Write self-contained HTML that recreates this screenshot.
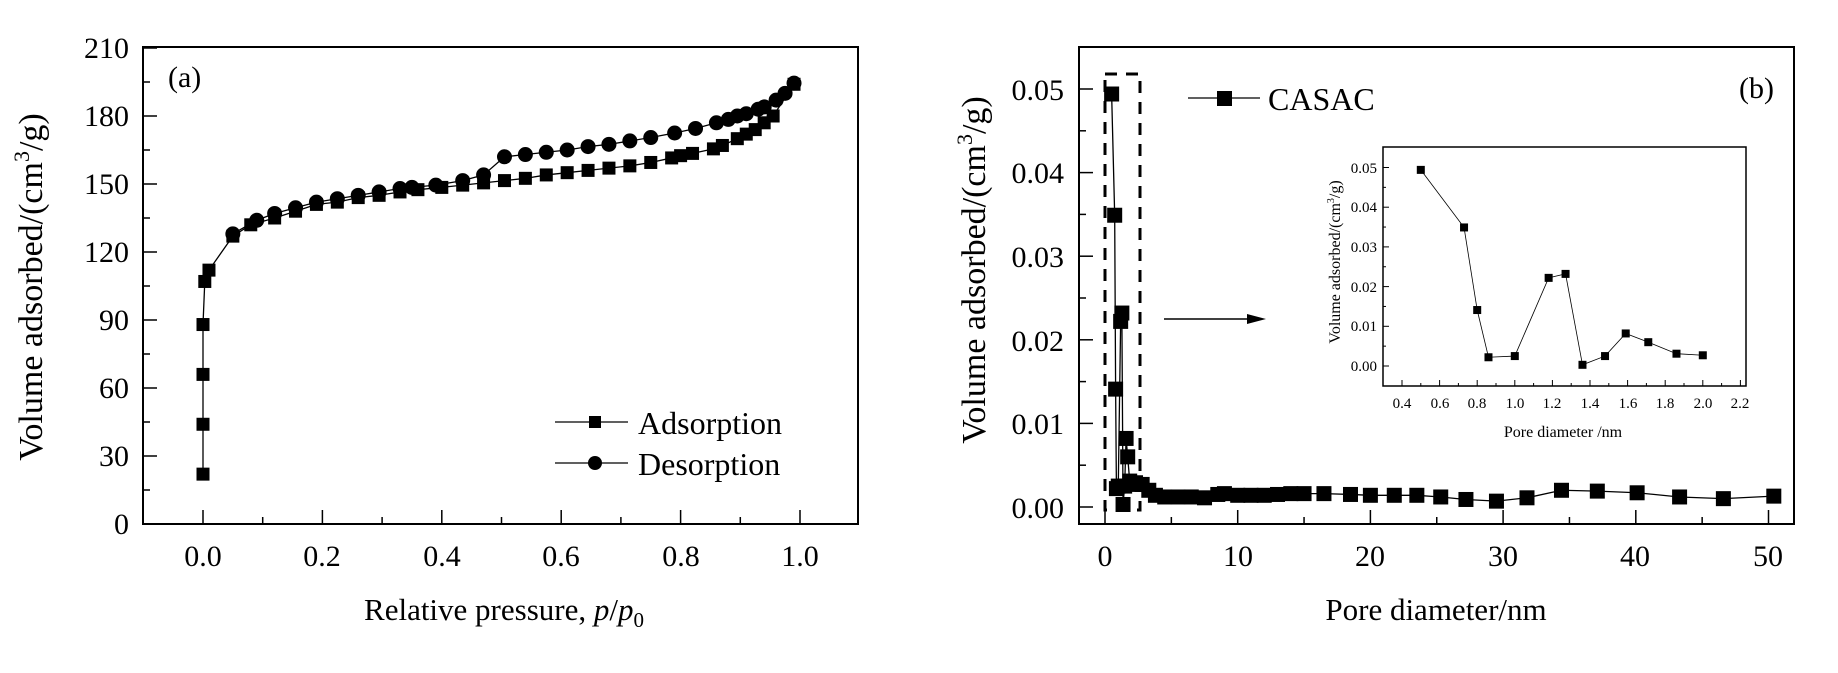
<!DOCTYPE html>
<html><head><meta charset="utf-8"><style>
html,body{margin:0;padding:0;background:#fff;width:1838px;height:673px;overflow:hidden}
svg{display:block}
text{font-family:"Liberation Serif",serif;fill:#000}
</style></head><body>
<svg id="s" width="1838" height="673" viewBox="0 0 1838 673" xmlns="http://www.w3.org/2000/svg">
<rect width="1838" height="673" fill="#fff"/>
<rect x="143" y="47" width="715" height="477" fill="none" stroke="#000" stroke-width="2"/>
<g id="ta"></g>
<g font-size="30" text-anchor="end">
<text x="129" y="534">0</text><text x="129" y="466">30</text><text x="129" y="398">60</text><text x="129" y="330">90</text>
<text x="129" y="262">120</text><text x="129" y="194">150</text><text x="129" y="126">180</text><text x="129" y="58">210</text>
</g>
<g font-size="30" text-anchor="middle">
<text x="203" y="566">0.0</text><text x="322" y="566">0.2</text><text x="442" y="566">0.4</text><text x="561" y="566">0.6</text><text x="681" y="566">0.8</text><text x="800" y="566">1.0</text>
</g>
<text x="168" y="87" font-size="30">(a)</text>
<text x="504" y="620" font-size="31" text-anchor="middle">Relative pressure, <tspan font-style="italic">p</tspan>/<tspan font-style="italic">p</tspan><tspan font-size="21" dy="7">0</tspan></text>
<text transform="translate(42,287) rotate(-90)" font-size="34" text-anchor="middle">Volume adsorbed/(cm<tspan font-size="22" dy="-13">3</tspan><tspan dy="13">/g)</tspan></text>
<g id="da"></g>
<line x1="555" y1="422" x2="628" y2="422" stroke="#000" stroke-width="1.3"/><rect x="589" y="416" width="12" height="12"/>
<line x1="555" y1="463" x2="628" y2="463" stroke="#000" stroke-width="1.3"/><circle cx="595" cy="463" r="7"/>
<text x="638" y="434" font-size="32">Adsorption</text>
<text x="638" y="475" font-size="32">Desorption</text>

<rect x="1079" y="47" width="715" height="477" fill="none" stroke="#000" stroke-width="2"/>
<g id="tb"></g>
<g font-size="30" text-anchor="end">
<text x="1064" y="518">0.00</text><text x="1064" y="434">0.01</text><text x="1064" y="351">0.02</text><text x="1064" y="267">0.03</text><text x="1064" y="183">0.04</text><text x="1064" y="100">0.05</text>
</g>
<g font-size="30" text-anchor="middle">
<text x="1105" y="566">0</text><text x="1238" y="566">10</text><text x="1370" y="566">20</text><text x="1503" y="566">30</text><text x="1635" y="566">40</text><text x="1768" y="566">50</text>
</g>
<text x="1774" y="98" font-size="30" text-anchor="end">(b)</text>
<text x="1436" y="620" font-size="31" text-anchor="middle">Pore diameter/nm</text>
<text transform="translate(985,270) rotate(-90)" font-size="34" text-anchor="middle">Volume adsorbed/(cm<tspan font-size="22" dy="-13">3</tspan><tspan dy="13">/g)</tspan></text>
<rect x="1105" y="74" width="35" height="436" fill="none" stroke="#000" stroke-width="3" stroke-dasharray="12,9"/>
<g id="db"></g>
<line x1="1188" y1="98" x2="1260" y2="98" stroke="#000" stroke-width="1.3"/><rect x="1217" y="91" width="15" height="15"/>
<text x="1268" y="110" font-size="32">CASAC</text>
<line x1="1164" y1="319" x2="1250" y2="319" stroke="#000" stroke-width="1.5"/>
<polygon points="1247,314 1266,319 1247,324" fill="#000"/>
<rect x="1383" y="147" width="363" height="239" fill="#fff" stroke="#000" stroke-width="1.5"/>
<g id="ti"></g>
<g font-size="15" text-anchor="end">
<text x="1377" y="371">0.00</text><text x="1377" y="331">0.01</text><text x="1377" y="292">0.02</text><text x="1377" y="252">0.03</text><text x="1377" y="212">0.04</text><text x="1377" y="173">0.05</text>
</g>
<g font-size="15" text-anchor="middle">
<text x="1402" y="408">0.4</text><text x="1440" y="408">0.6</text><text x="1477" y="408">0.8</text><text x="1515" y="408">1.0</text><text x="1552" y="408">1.2</text><text x="1590" y="408">1.4</text><text x="1628" y="408">1.6</text><text x="1665" y="408">1.8</text><text x="1703" y="408">2.0</text><text x="1740" y="408">2.2</text>
</g>
<text x="1563" y="437" font-size="16" text-anchor="middle">Pore diameter /nm</text>
<text transform="translate(1340,262) rotate(-90)" font-size="16" text-anchor="middle">Volume adsorbed/(cm<tspan font-size="10" dy="-6">3</tspan><tspan dy="6">/g)</tspan></text>
<g id="di"></g>
</svg>
<script>
var NS="http://www.w3.org/2000/svg";
function el(p,n,a){var e=document.createElementNS(NS,n);for(var k in a)e.setAttribute(k,a[k]);document.getElementById(p).appendChild(e);return e;}
function line(p,x1,y1,x2,y2,w){el(p,"line",{x1:x1,y1:y1,x2:x2,y2:y2,stroke:"#000","stroke-width":w||1.5});}
var ax=function(v){return 203+v*597},ay=function(v){return 524-v*68/30};
for(var i=0;i<=14;i++){var y=ay(i*15);line("ta",143,y,143+(i%2?7:14),y);}
for(var i=0;i<=10;i++){var x=ax(i*0.1);line("ta",x,524,x,524-(i%2?7:14));}
var ad=[[0,22],[0,44],[0,66],[0,88],[0.003,107],[0.01,112],[0.05,127],[0.08,132],[0.12,135],[0.155,138],[0.19,141],[0.225,142],[0.26,144],[0.295,145],[0.33,146.5],[0.36,147.5],[0.4,148.5],[0.435,149.5],[0.47,150.5],[0.505,151.5],[0.54,152.5],[0.575,154],[0.61,155],[0.645,156],[0.68,157],[0.715,158],[0.75,159.5],[0.785,161.5],[0.8,162.5],[0.82,163.5],[0.855,165.5],[0.87,167],[0.895,170],[0.91,172],[0.925,174],[0.94,177],[0.955,180],[0.99,194]];
var de=[[0.99,194.5],[0.975,190],[0.96,187],[0.94,184],[0.93,183],[0.91,181],[0.895,180],[0.88,178.5],[0.86,177],[0.825,174.5],[0.79,172.5],[0.75,170.5],[0.715,169],[0.68,167.5],[0.645,166.5],[0.61,165],[0.575,164],[0.54,163],[0.505,162],[0.47,154],[0.435,151.5],[0.39,149.5],[0.35,148.5],[0.33,148],[0.295,146.5],[0.26,145],[0.225,143.5],[0.19,142],[0.155,139.5],[0.12,137],[0.09,134],[0.05,128]];
function poly(p,d,fx,fy,w){el(p,"polyline",{points:d.map(function(q){return fx(q[0])+","+fy(q[1])}).join(" "),fill:"none",stroke:"#000","stroke-width":w});}
poly("da",ad,ax,ay,1.3);poly("da",de,ax,ay,1.3);
ad.forEach(function(q){el("da","rect",{x:ax(q[0])-6.5,y:ay(q[1])-6.5,width:13,height:13});});
de.forEach(function(q){el("da","circle",{cx:ax(q[0]),cy:ay(q[1]),r:7.5});});
var bx=function(v){return 1105+v*13.27},by=function(v){return 507-v*8360};
for(var i=0;i<=11;i++){var y=by(i*0.005);if(y>48)line("tb",1079,y,1079+(i%2?7:14),y);}
for(var i=0;i<=10;i++){var x=bx(i*5);line("tb",x,524,x,524-(i%2?7:14));}
var bd=[[0.5,.0494],[0.73,.0349],[0.8,.0141],[0.86,.0022],[1.0,.0025],[1.18,.0222],[1.27,.0232],[1.36,.0003],[1.48,.0025],[1.59,.0082],[1.71,.006],[1.86,.0031],[2.0,.0027],[2.3,.0029],[2.8,.0027],[3.3,.002],[3.8,.0014],[4.5,.0012],[5.5,.0012],[6.5,.0012],[7.5,.0011],[8.5,.0015],[9,.0016],[10,.0014],[11,.0014],[12,.0014],[13,.0015],[14,.0016],[15,.0016],[16.5,.0016],[18.5,.0015],[20,.0014],[21.8,.0014],[23.5,.0014],[25.3,.0012],[27.2,.0009],[29.5,.0007],[31.8,.0011],[34.4,.002],[37.1,.0019],[40.1,.0017],[43.3,.0012],[46.6,.001],[50.4,.0013]];
poly("db",bd,bx,by,1.3);
bd.forEach(function(q){el("db","rect",{x:bx(q[0])-7.5,y:by(q[1])-7.5,width:15,height:15});});
var ix=function(v){return 1402+(v-0.4)*188},iy=function(v){return 366-v*3970};
for(var i=0;i<=10;i++){var y=iy(i*0.005);line("ti",1383,y,1383+(i%2?3:6),y,1);}
for(var i=0;i<=19;i++){var x=ix(0.3+i*0.1);if(x>1384&&x<1745)line("ti",x,386,x,386-(i%2?6:3),1);}
var idd=bd.slice(0,13);
poly("di",idd,ix,iy,0.8);
idd.forEach(function(q){el("di","rect",{x:ix(q[0])-4,y:iy(q[1])-4,width:8,height:8});});
</script>
</body></html>
